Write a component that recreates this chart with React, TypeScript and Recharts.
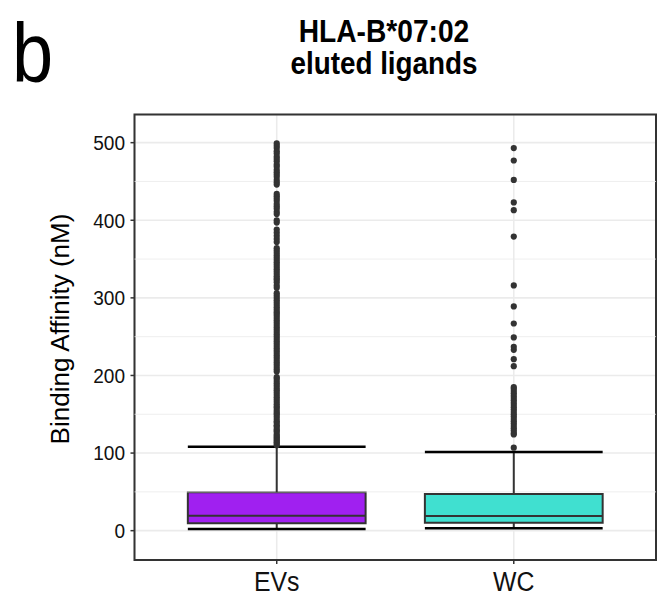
import React from 'react';
import {
  ComposedChart,
  XAxis,
  YAxis,
  CartesianGrid,
  Scatter,
  ReferenceArea,
  ReferenceLine,
} from 'recharts';

const categories = ['EVs', 'WC'];
const boxLower = [2.2, 3.1];
const boxQ1 = [9.5, 10.3];
const boxMedian = [19.3, 19.0];
const boxQ3 = [49.5, 47.3];
const boxUpper = [108, 101.4];

const evsOutliers = [
  110, 112, 114, 116, 118, 120, 122, 124, 127, 129, 131, 134, 136, 139, 141, 144, 147, 150,
  152, 155, 158, 160, 163, 166, 169, 172, 175, 178, 181, 184, 187, 190, 193, 196, 198,
  205, 208, 211, 214, 217, 220, 223, 226, 229, 232, 235, 238, 241, 244, 247, 250, 253, 256,
  259, 262, 265, 268, 271, 274, 277, 280, 282, 285, 288, 291, 294, 297, 300, 303, 306,
  313, 316, 320, 323, 325, 328, 331, 334, 337, 340, 343, 346, 349, 352, 355, 358, 361, 364,
  372, 376, 380, 384, 388, 397, 400, 408, 411, 415, 418, 421, 425, 428, 431, 434,
  446, 449, 452, 456, 459, 462, 465, 469, 472, 476, 479, 482, 486, 489, 493, 496, 499,
];
const wcOutliers = [
  107, 124, 126, 129, 132, 135, 138, 141, 144, 147, 150, 153, 156, 159, 162, 165, 168, 171,
  174, 177, 180, 183, 185, 212, 221, 233, 237, 249, 267, 289, 316, 379, 413, 423, 452, 477, 493,
];

const yTicks = [0, 100, 200, 300, 400, 500];
const yMinor = [50, 150, 250, 350, 450];
const fills = ['#A020F0', '#40E0D0'];

const W = 660;
const H = 597;
const HALF = 0.375;
const FONT = '"Liberation Sans", Arial, Helvetica, sans-serif';

const dot = (p: any) => <circle cx={p.cx} cy={p.cy} r={3.1} fill="#333333" />;

const XTick = (p: any) => (
  <text
    transform={`translate(${p.x},${p.y}) scale(0.92,1)`}
    textAnchor="middle"
    dy="0.71em"
    fontSize={27}
    fontFamily={FONT}
    fill="#111"
  >
    {categories[p.payload.value - 1]}
  </text>
);

const YTick = (p: any) => (
  <text
    transform={`translate(${p.x},${p.y}) scale(0.93,1)`}
    textAnchor="end"
    dy="0.355em"
    fontSize={20.5}
    fontFamily={FONT}
    fill="#111"
  >
    {p.payload.value}
  </text>
);

export default function App() {
  const outlierSets = [evsOutliers, wcOutliers];
  return (
    <div
      style={{
        position: 'absolute',
        left: 0,
        top: 0,
        width: W,
        height: H,
        background: '#ffffff',
        fontFamily: FONT,
      }}
    >
      <ComposedChart width={W} height={H} margin={{ top: 114.5, right: 4, bottom: 0, left: 0 }}>
        <CartesianGrid stroke="#EBEBEB" strokeWidth={1.6} />
        <XAxis
          type="number"
          dataKey="x"
          domain={[0.4, 2.6]}
          ticks={[1, 2]}
          allowDataOverflow
          height={37}
          tickSize={4}
          tickMargin={7.5}
          tick={XTick}
          axisLine={false}
          tickLine={{ stroke: '#333', strokeWidth: 1.5 }}
        />
        <YAxis
          type="number"
          dataKey="y"
          domain={[-37.8, 536.3]}
          ticks={yTicks}
          allowDataOverflow
          width={134.5}
          tickSize={4}
          tickMargin={5.5}
          tick={YTick}
          axisLine={false}
          tickLine={{ stroke: '#333', strokeWidth: 1.5 }}
        />
        {yMinor.map((v) => (
          <ReferenceLine key={'m' + v} y={v} stroke="#EBEBEB" strokeWidth={0.8} />
        ))}
        {categories.map((c, i) => (
          <ReferenceLine
            key={'w' + c}
            segment={[
              { x: i + 1, y: boxQ3[i] },
              { x: i + 1, y: boxUpper[i] },
            ]}
            stroke="#333333"
            strokeWidth={2}
          />
        ))}
        {categories.map((c, i) => (
          <ReferenceLine
            key={'wl' + c}
            segment={[
              { x: i + 1, y: boxQ1[i] },
              { x: i + 1, y: boxLower[i] },
            ]}
            stroke="#333333"
            strokeWidth={2}
          />
        ))}
        {categories.map((c, i) => (
          <ReferenceLine
            key={'cu' + c}
            segment={[
              { x: i + 1 - HALF, y: boxUpper[i] },
              { x: i + 1 + HALF, y: boxUpper[i] },
            ]}
            stroke="#000000"
            strokeWidth={2.5}
          />
        ))}
        {categories.map((c, i) => (
          <ReferenceLine
            key={'cl' + c}
            segment={[
              { x: i + 1 - HALF, y: boxLower[i] },
              { x: i + 1 + HALF, y: boxLower[i] },
            ]}
            stroke="#000000"
            strokeWidth={2.5}
          />
        ))}
        {categories.map((c, i) => (
          <ReferenceArea
            key={'b' + c}
            x1={i + 1 - HALF}
            x2={i + 1 + HALF}
            y1={boxQ1[i]}
            y2={boxQ3[i]}
            fill={fills[i]}
            fillOpacity={1}
            stroke="#333333"
            strokeWidth={2}
          />
        ))}
        {categories.map((c, i) => (
          <ReferenceLine
            key={'md' + c}
            segment={[
              { x: i + 1 - HALF, y: boxMedian[i] },
              { x: i + 1 + HALF, y: boxMedian[i] },
            ]}
            stroke="#333333"
            strokeWidth={2}
          />
        ))}
        {categories.map((c, i) => (
          <Scatter
            key={'o' + c}
            data={outlierSets[i].map((v) => ({ x: i + 1, y: v }))}
            shape={dot}
            isAnimationActive={false}
          />
        ))}
        <ReferenceArea
          x1={0.4}
          x2={2.6}
          y1={-37.8}
          y2={536.3}
          fill="none"
          fillOpacity={0}
          stroke="#333333"
          strokeWidth={2}
        />
      </ComposedChart>
      <svg
        width={W}
        height={H}
        style={{ position: 'absolute', left: 0, top: 0, pointerEvents: 'none' }}
      >
        <text transform="translate(12,82) scale(0.88,1)" fontSize={84} fontFamily={FONT} fill="#000">
          b
        </text>
        <text
          transform="translate(384,42) scale(0.88,1)"
          fontSize={32}
          fontWeight="bold"
          textAnchor="middle"
          fontFamily={FONT}
          fill="#000"
        >
          HLA-B*07:02
        </text>
        <text
          transform="translate(384,74) scale(0.87,1)"
          fontSize={32}
          fontWeight="bold"
          textAnchor="middle"
          fontFamily={FONT}
          fill="#000"
        >
          eluted ligands
        </text>
        <text
          transform="translate(60,329) rotate(-90)"
          fontSize={26}
          textAnchor="middle"
          dominantBaseline="central"
          fontFamily={FONT}
          fill="#000"
        >
          Binding Affinity (nM)
        </text>
      </svg>
    </div>
  );
}
